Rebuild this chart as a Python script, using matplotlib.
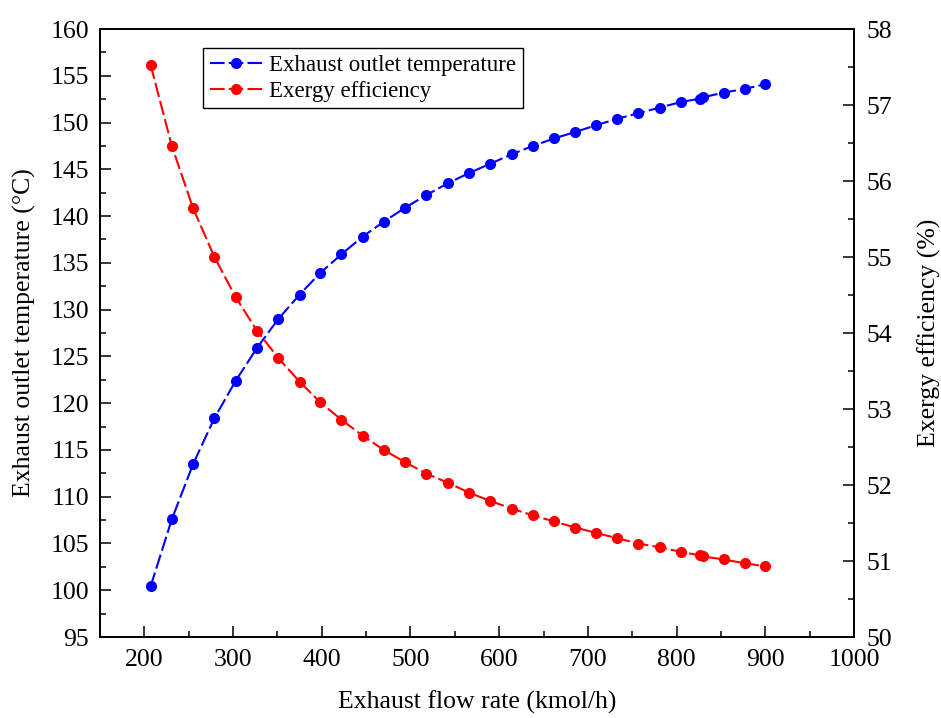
import matplotlib
matplotlib.use("Agg")
import matplotlib.pyplot as plt
from matplotlib.ticker import MultipleLocator

flow_rate = [207, 231, 255, 279, 303, 327, 351, 375, 398, 422, 446, 470, 494,
             518, 542, 566, 590, 614, 638, 662, 686, 709, 733, 757, 781, 805,
             826, 830, 853, 877, 900]
outlet_temp = [100.4, 107.6, 113.5, 118.4, 122.4, 125.9, 129.0, 131.6, 133.9,
               135.9, 137.8, 139.4, 140.9, 142.25, 143.5, 144.6, 145.6, 146.6,
               147.5, 148.3, 149.0, 149.7, 150.4, 151.0, 151.6, 152.2, 152.55,
               152.7, 153.2, 153.6, 154.1]
exergy_eff = [57.53, 56.46, 55.64, 55.00, 54.47, 54.03, 53.67, 53.36, 53.09,
              52.86, 52.65, 52.46, 52.30, 52.15, 52.03, 51.90, 51.79, 51.69,
              51.60, 51.52, 51.44, 51.37, 51.30, 51.23, 51.18, 51.12, 51.075,
              51.06, 51.02, 50.97, 50.93]

plt.rcParams['font.family'] = ['Liberation Serif', 'DejaVu Serif']
FS = 18.5

fig = plt.figure(figsize=(9.41, 7.18), dpi=100)
ax = fig.add_axes([100/941, 1-637/718, 754/941, 608/718])
ax2 = ax.twinx()

l1, = ax.plot(flow_rate, outlet_temp, color='#0000ff', linestyle=(0, (7, 2)),
              linewidth=1.5, marker='o', markersize=7,
              label='Exhaust outlet temperature')
l2, = ax2.plot(flow_rate, exergy_eff, color='#ff0000', linestyle=(0, (7, 2)),
               linewidth=1.5, marker='o', markersize=7,
               label='Exergy efficiency')

ax.set_xlim(150, 1000)
ax.set_ylim(95, 160)
ax2.set_ylim(50, 58)

ax.xaxis.set_major_locator(MultipleLocator(100))
ax.xaxis.set_minor_locator(MultipleLocator(50))
ax.yaxis.set_major_locator(MultipleLocator(5))
ax.yaxis.set_minor_locator(MultipleLocator(2.5))
ax2.yaxis.set_major_locator(MultipleLocator(1))
ax2.yaxis.set_minor_locator(MultipleLocator(0.5))

for a in (ax, ax2):
    a.tick_params(which='major', direction='in', length=8, width=1.1,
                  labelsize=FS, colors='black')
    a.tick_params(which='minor', direction='in', length=4.5, width=1.1)
    for s in a.spines.values():
        s.set_linewidth(1.3)
ax.tick_params(axis='x', which='both', top=False, pad=9)
ax.tick_params(axis='y', which='both', right=False)
ax.tick_params(axis='y', pad=8)
ax2.tick_params(axis='y', pad=9)

ax.set_xlabel('Exhaust flow rate (kmol/h)', fontsize=FS, labelpad=14)
ax.set_ylabel('Exhaust outlet temperature (°C)', fontsize=FS, labelpad=10)
ax2.set_ylabel('Exergy efficiency (%)', fontsize=FS, labelpad=18)

leg = ax2.legend(handles=[l1, l2], loc='upper left',
                 bbox_to_anchor=(103/754, 1-19/608), borderaxespad=0,
                 fontsize=16.5, frameon=True, fancybox=False, framealpha=1,
                 edgecolor='black', handlelength=2.3, handletextpad=0.3,
                 borderpad=0.3, labelspacing=0.2)
leg.get_frame().set_linewidth(1.0)

fig.savefig('out.png', dpi=100)
